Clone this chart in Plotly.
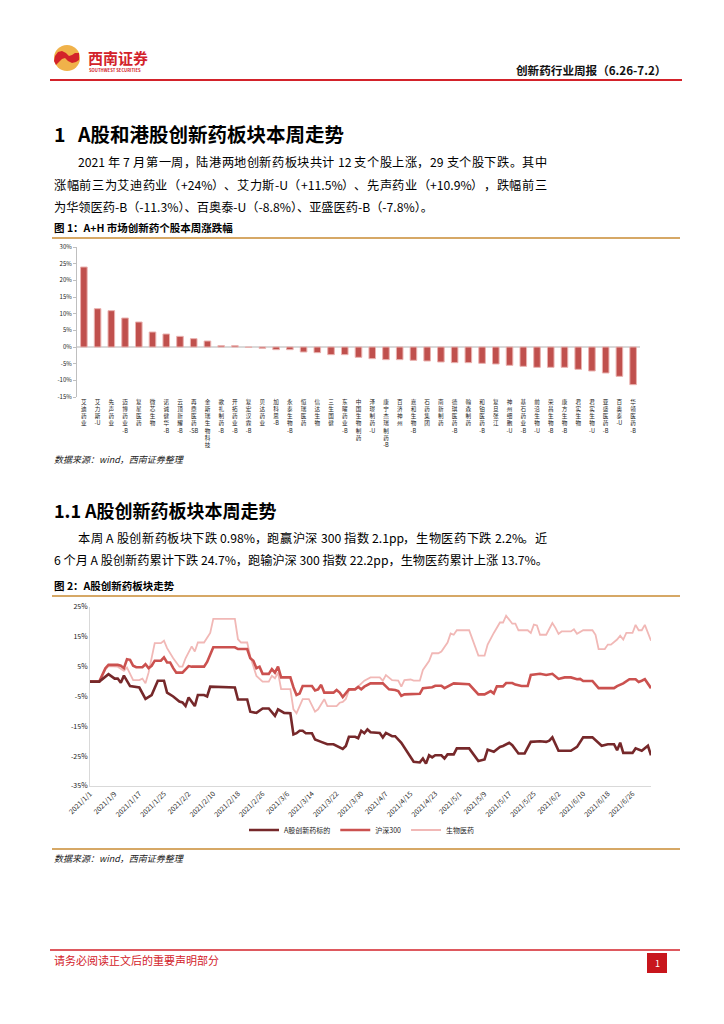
import plotly.graph_objects as go
import pandas as pd

W, H = 724, 1024
FONT = "Noto Sans CJK SC"

# ---------------- Figure 1 data ----------------
stocks = ["艾迪药业", "艾力斯-U", "先声药业", "迈博药业-B", "复星医药", "微芯生物", "诺诚健华-B",
          "云顶新耀-B", "再鼎医药-SB", "金斯瑞生物科技", "歌礼制药-B", "开拓药业-B", "复宏汉霖-B",
          "贝达药业", "加科思-B", "永泰生物-B", "恒瑞医药", "信达生物", "三生国健", "东曜药业-B",
          "中国生物制药", "泽璟制药-U", "康宁杰瑞制药-B", "百济神州", "嘉和生物-B", "石药集团",
          "南新制药", "德琪医药-B", "翰森制药", "和铂医药-B", "复旦张江", "神州细胞-U", "基石药业-B",
          "前沿生物-U", "荣昌生物-B", "康方生物-B", "君实生物", "君实生物-U", "亚盛医药-B",
          "百奥泰-U", "华领医药-B"]
weekly_change = [24.0, 11.5, 10.9, 8.7, 7.5, 4.5, 3.9, 3.2, 2.5, 1.8, 0.4, 0.4, -0.1, -0.4,
                 -0.8, -0.8, -1.5, -1.7, -2.3, -2.3, -3.1, -3.5, -3.8, -3.8, -4.0, -4.2, -4.5,
                 -4.7, -4.7, -4.9, -5.1, -5.5, -5.8, -6.1, -6.1, -6.1, -6.7, -7.2, -7.8, -8.8, -11.3]
fig1_yticks = [30, 25, 20, 15, 10, 5, 0, -5, -10, -15]
fig1_ytext = ["30%", "25%", "20%", "15%", "10%", "5%", "0%", "-5%", "-10%", "-15%"]

# ---------------- Figure 2 data (days since 2021-01-01, cumulative %) ----------------
base_date = "2021-01-01"
inno_days = [0, 3, 6, 8, 9, 10, 11, 13, 16, 18, 20, 22, 24, 25, 27, 29, 30, 31, 32, 34,
             35, 37, 38, 39, 47, 48, 51, 52, 54, 56, 58, 60, 61, 63, 65, 66, 67, 68, 69, 70,
             72, 73, 75, 76, 77, 79, 82, 83, 84, 86, 87, 88, 89, 90, 91, 94, 95, 96, 98, 99,
             101, 105, 107, 108, 109, 110, 111, 112, 114, 115, 116, 118, 119, 123, 126, 128, 129, 131, 133, 134,
             136, 137, 139, 141, 143, 146, 148, 149, 150, 152, 156, 158, 160, 163, 166, 168, 170, 171, 172, 173,
             176, 177, 179, 181, 182]
inno_vals = [0, 0, 2.5, 1, 1, -0.4, 2, -1.5, -2, -5.8, -4.5, 0.3, 0.3, -3.7, -5.0, -6.7, -7, -8.2, -5.3, -8.2,
             -4.5, -4.5, -5, -1.7, -2, -6, -6, -10.1, -10.5, -9, -9, -11.5, -9.3, -10.5, -10.6, -17.7, -17.3, -16.5, -16.5, -17.3,
             -17.3, -19.4, -20.2, -20.5, -21, -21, -22.6, -21.6, -18.5, -18.5, -19, -16.5, -17.3, -16, -17, -17.2, -18.7, -17.2, -18.3, -18.3,
             -20.5, -26.9, -27.1, -25.8, -27.5, -24.7, -25.4, -24.7, -24.7, -25.8, -24.4, -24.4, -22.4, -22.4, -26.6, -26.1, -22.8, -23.5, -21.9, -21.6,
             -20.5, -21.3, -24.1, -24.1, -20.2, -20, -20.2, -19.8, -18.7, -23.2, -23.2, -21.9, -18.7, -18.7, -21.5, -21, -21, -23, -20.5, -23.9,
             -23.9, -22.4, -23.2, -21.5, -24.7]

hs300_days = [0, 3, 5, 6, 9, 10, 11, 12, 13, 14, 15, 17, 18, 19, 20, 21, 23, 24, 25, 26,
              27, 28, 30, 32, 33, 37, 38, 40, 47, 48, 51, 52, 53, 54, 55, 56, 58, 59, 60, 61,
              62, 65, 66, 67, 68, 69, 72, 73, 74, 75, 76, 79, 80, 81, 82, 84, 86, 87, 88, 89,
              91, 95, 97, 99, 100, 101, 102, 105, 107, 108, 111, 112, 114, 115, 116, 118, 123, 126, 128, 130,
              131, 132, 134, 135, 137, 138, 140, 142, 143, 146, 148, 150, 152, 154, 156, 158, 159, 160, 163, 165,
              170, 171, 173, 175, 177, 178, 179, 180, 182]
hs300_vals = [0, 0, 4.5, 5.6, 5.6, 5.3, 4.5, 7.5, 7.3, 5.3, 4.8, 4.8, 5.8, 4.5, 5.3, 7, 7, 8.1, 6.4, 6.4,
              4.5, 3.0, 3.0, 5.2, 5, 5, 6.6, 11.5, 11.5, 10.9, 10.9, 7.8, 7, 4.5, 5, 2.6, 2.6, 4.2, 3.0, 5,
              1.4, 1.4, -1.9, -4.5, -4, -1.5, -1.5, -3, -2.6, -1.1, -3.7, -3.7, -2.8, -3.7, -5.2, -2.6, -2.6, -1.8, -2.6, -1.7,
              -0.6, -0.6, -2.6, -2.8, -3.2, -4.8, -4.3, -4.3, -4.1, -2.2, -1.9, -1.4, -1.4, -2.2, -1.7, -0.6, -0.9, -4.3, -4.3, -3.2,
              -4, -1.6, -1.6, -0.5, -0.5, -1, -1.5, -1.5, 2.2, 2.6, 2.2, 2.6, 0.9, 1.4, 1.4, 0.8, 0.9, 0.2, 0.2, -2.2,
              -2.2, -1.5, -0.6, 0.8, 0.8, -0.1, 0.3, 0.8, -2.2]

bio_days = [0, 3, 5, 6, 9, 11, 12, 14, 16, 17, 18, 19, 21, 23, 24, 25, 27, 29, 30, 31,
            33, 34, 35, 37, 39, 40, 47, 48, 49, 51, 52, 53, 54, 56, 58, 59, 60, 61, 62, 65,
            66, 67, 68, 69, 71, 73, 74, 76, 77, 80, 81, 82, 83, 84, 86, 88, 89, 91, 94, 95,
            96, 98, 100, 101, 102, 104, 105, 107, 108, 110, 111, 113, 114, 116, 117, 118, 119, 123, 125, 126,
            128, 129, 131, 133, 134, 135, 137, 138, 139, 142, 143, 144, 145, 146, 148, 150, 151, 152, 153, 156,
            157, 158, 160, 163, 164, 165, 167, 168, 169, 171, 172, 173, 174, 176, 177, 178, 179, 180, 182]
bio_vals = [0, 0, 4.1, 5.2, 5, 3.6, 4.7, 0.5, 0.5, 1, -0.6, 3.0, 12.9, 12.9, 13.7, 11.2, 7.8, 5, 5, 7.8,
            11.8, 10.1, 13.1, 13.1, 16.3, 21, 21, 14.2, 13.1, 13.1, 8.4, 5, 1.9, 0, 0, 1.9, 1.1, 3, -2.5, -2.5,
            -9.3, -10.6, -8.5, -5.9, -5.9, -10.1, -9.3, -5.9, -8.2, -8.2, -7.1, -6.8, -5.8, -2.9, -2.6, -0.6, 0.3, 1.4, 1.4, 0.3,
            2.2, 0.5, 0.3, -1.7, 0.5, 0.7, 0.3, 0.3, 3.9, 6.9, 9.5, 9.5, 10.1, 13.1, 16.1, 15.7, 17.2, 17.2, 11.8, 8.7,
            8.7, 12.4, 16.3, 19.8, 19.8, 22.1, 19.4, 19.4, 17.2, 17.2, 16.3, 19.1, 18.8, 15.7, 15.7, 19.6, 18, 16, 16.8, 16.8,
            17.5, 16, 17.2, 17.2, 15.7, 10.9, 10.9, 12.4, 12.4, 14.1, 15.4, 14.1, 16.3, 16.3, 19, 17.2, 17.2, 19, 13.7]

series_names = ["A股创新药标的", "沪深300", "生物医药"]
date_tick_labels = ["2021/1/1", "2021/1/9", "2021/1/17", "2021/1/25", "2021/2/2", "2021/2/10",
                    "2021/2/18", "2021/2/26", "2021/3/6", "2021/3/14", "2021/3/22", "2021/3/30",
                    "2021/4/7", "2021/4/15", "2021/4/23", "2021/5/1", "2021/5/9", "2021/5/17",
                    "2021/5/25", "2021/6/2", "2021/6/10", "2021/6/18", "2021/6/26"]
fig2_yticks = [25, 15, 5, -5, -15, -25, -35]
fig2_ytext = ["25%", "15%", "5%", "-5%", "-15%", "-25%", "-35%"]


def fx(p):
    return p / W


def fy(p):
    return 1 - p / H


def to_dates(days):
    return pd.Timestamp(base_date) + pd.to_timedelta(days, unit="D")


def stack(label):
    parts, i = [], 0
    while i < len(label):
        if label[i] == "-":
            parts.append(label[i:])
            break
        parts.append(label[i])
        i += 1
    return "<br>".join(parts)


fig = go.Figure()

fig.add_trace(go.Bar(
    x=stocks, y=weekly_change, xaxis="x", yaxis="y",
    marker=dict(color="#c0504d", line=dict(color="#eab2b0", width=1)),
    width=0.48, showlegend=False, hoverinfo="skip"))

line_colors = ["#76282a", "#cb514f", "#f1b8b6"]
line_widths = [2.6, 2.6, 1.8]
traces = []
for rank, (name, days, vals, c, w) in enumerate(zip(series_names, [inno_days, hs300_days, bio_days],
                                                    [inno_vals, hs300_vals, bio_vals], line_colors, line_widths)):
    traces.append(go.Scatter(x=to_dates(days), y=vals, mode="lines", name=name, legendrank=rank + 1,
                             line=dict(color=c, width=w), xaxis="x2", yaxis="y2"))
for t in reversed(traces):
    fig.add_trace(t)

tick_font = dict(family=FONT, size=7, color="#222")

fig.update_layout(
    width=W, height=H, margin=dict(l=0, r=0, t=0, b=0, autoexpand=False),
    paper_bgcolor="white", plot_bgcolor="white",
    font=dict(family=FONT),
    xaxis=dict(domain=[fx(77), fx(640)], anchor="y", tickvals=stocks, automargin=False,
               ticktext=[stack(s) for s in stocks], tickangle=0, showline=False,
               ticks="", showgrid=False, zeroline=False,
               tickfont=dict(family=FONT, size=5.6, color="#222")),
    yaxis=dict(domain=[fy(397), fy(247)], anchor="x", range=[-15, 30], automargin=False,
               tickvals=fig1_yticks, ticktext=fig1_ytext, showgrid=False,
               showline=True, linecolor="#bfbfbf", linewidth=1,
               ticks="outside", ticklen=3, tickcolor="#bfbfbf",
               zeroline=True, zerolinecolor="#d9d9d9", zerolinewidth=1.5,
               tickfont=dict(family=FONT, size=6, color="#222")),
    xaxis2=dict(domain=[fx(90), fx(651)], anchor="y2", type="date", automargin=False,
                range=[to_dates([0])[0], to_dates([182])[0]],
                tickvals=pd.to_datetime(date_tick_labels, format="%Y/%m/%d"),
                ticktext=date_tick_labels, tickangle=-45, showgrid=False,
                showline=True, linecolor="#d9d9d9", linewidth=1, ticks="",
                zeroline=False, tickfont=tick_font),
    yaxis2=dict(domain=[fy(786), fy(607)], anchor="x2", range=[-35, 25], automargin=False,
                tickvals=fig2_yticks, ticktext=fig2_ytext, showgrid=False,
                showline=True, linecolor="#d9d9d9", linewidth=1, ticks="",
                zeroline=False, tickfont=tick_font),
    legend=dict(orientation="h", x=0.5, xanchor="center", y=fy(830), yanchor="middle",
                font=dict(family=FONT, size=7, color="#222"),
                itemwidth=30, bgcolor="rgba(0,0,0,0)"),
)

shapes = []
annos = []


def text(x, y, s, size, color="#000", bold=False, anchor="left", italic=False):
    if bold:
        s = "<b>" + s + "</b>"
    if italic:
        s = "<i>" + s + "</i>"
    annos.append(dict(x=fx(x), y=fy(y), xref="paper", yref="paper", text=s, showarrow=False,
                      xanchor=anchor, yanchor="middle",
                      font=dict(family=FONT, size=size, color=color)))


LATIN_W = {"0": 0.55, "1": 0.55, "2": 0.55, "3": 0.55, "4": 0.55, "5": 0.55, "6": 0.55, "7": 0.55,
           "8": 0.55, "9": 0.55, ".": 0.27, "%": 0.85, "+": 0.55, "-": 0.34, "A": 0.6, "B": 0.63,
           "U": 0.68, "p": 0.58}
SPACE_W = 0.23


def is_cjk(c):
    return ord(c) >= 0x2E80


def justified(x0, x1, y, s, size):
    toks = []
    for c in s:
        if c == " ":
            if toks:
                toks[-1][2] += SPACE_W
            continue
        if is_cjk(c):
            toks.append([c, 1.0, 0.0])
        elif toks and not is_cjk(toks[-1][0][-1]) and toks[-1][2] == 0:
            toks[-1][0] += c
            toks[-1][1] += LATIN_W.get(c, 0.55)
        else:
            toks.append([c, LATIN_W.get(c, 0.55), 0.0])
    natural = sum(t[1] for t in toks) + sum(t[2] for t in toks[:-1])
    extra = max(0.0, ((x1 - x0) / size - natural) / (len(toks) - 1))
    pos = x0
    for t in toks:
        text(pos, y, t[0], size)
        pos += (t[1] + t[2] + extra) * size


def hline(x0, x1, y, color, width):
    shapes.append(dict(type="line", xref="paper", yref="paper", x0=fx(x0), x1=fx(x1),
                       y0=fy(y), y1=fy(y), line=dict(color=color, width=width)))


def path(pts):
    return "M " + " L ".join(f"{fx(a):.5f},{fy(b):.5f}" for a, b in pts) + " Z"


# header
shapes.append(dict(type="circle", xref="paper", yref="paper", x0=fx(54), x1=fx(80),
                   y0=fy(71), y1=fy(45), fillcolor="#f0b24a", line=dict(width=0)))
shapes.append(dict(type="path", xref="paper", yref="paper",
                   path=path([(55, 56), (58, 52), (62, 51), (66, 53), (69, 56), (72, 55), (75, 53), (79, 53),
                              (79, 60), (76, 62), (72, 63), (68, 61), (65, 58), (62, 59), (59, 62), (56, 65), (54, 61)]),
                   fillcolor="#d3222a", line=dict(width=0)))
text(86, 57, "西南证券", 15, "#d3222a", bold=True)
text(87, 70, "SOUTHWEST SECURITIES", 4.2, "#d3222a", bold=True)
text(668, 70, "创新药行业周报（6.26-7.2）", 11.6, "#111", bold=True, anchor="right")
hline(50, 682, 80, "#d3222a", 2)

BODY = 12.2
TEXT_RIGHT = 545
# section 1
text(52, 133, "1", 19.5, bold=True)
text(75, 133, "A股和港股创新药板块本周走势", 19.5, bold=True)
justified(76, TEXT_RIGHT, 162, "2021 年 7 月第一周，陆港两地创新药板块共计 12 支个股上涨，29 支个股下跌。其中", BODY)
justified(52, TEXT_RIGHT, 185, "涨幅前三为艾迪药业（+24%）、艾力斯-U（+11.5%）、先声药业（+10.9%），跌幅前三", BODY)
text(52, 207, "为华领医药-B（-11.3%）、百奥泰-U（-8.8%）、亚盛医药-B（-7.8%）。", BODY)
text(52, 227, "图 1：A+H 市场创新药个股本周涨跌幅", 10.5, bold=True)
hline(52, 680, 238, "#d6a866", 2)
text(52, 459, "数据来源：wind，西南证券整理", 9, "#222", italic=True)

# section 1.1
text(52, 510, "1.1", 18, bold=True)
text(82, 510, "A股创新药板块本周走势", 18, bold=True)
justified(76, TEXT_RIGHT, 538, "本周 A 股创新药板块下跌 0.98%，跑赢沪深 300 指数 2.1pp，生物医药下跌 2.2%。近", BODY)
text(52, 560, "6 个月 A 股创新药累计下跌 24.7%，跑输沪深 300 指数 22.2pp，生物医药累计上涨 13.7%。", BODY)
text(52, 585, "图 2：A股创新药板块走势", 10.5, bold=True)
hline(52, 680, 596, "#d6a866", 2)
hline(52, 680, 849, "#d6a866", 2)
text(52, 858, "数据来源：wind，西南证券整理", 9, "#222", italic=True)

# footer
hline(50, 680, 950, "#d3222a", 1.5)
text(52, 960, "请务必阅读正文后的重要声明部分", 11, "#d3222a")
shapes.append(dict(type="rect", xref="paper", yref="paper", x0=fx(647), x1=fx(667),
                   y0=fy(973), y1=fy(953), fillcolor="#c8161d", line=dict(width=0)))
text(657, 963, "1", 9, "white", anchor="center")

fig.update_layout(shapes=shapes, annotations=annos)

fig.write_html("out.html", config={"displayModeBar": False},
               post_script="document.body.style.margin='0';")
